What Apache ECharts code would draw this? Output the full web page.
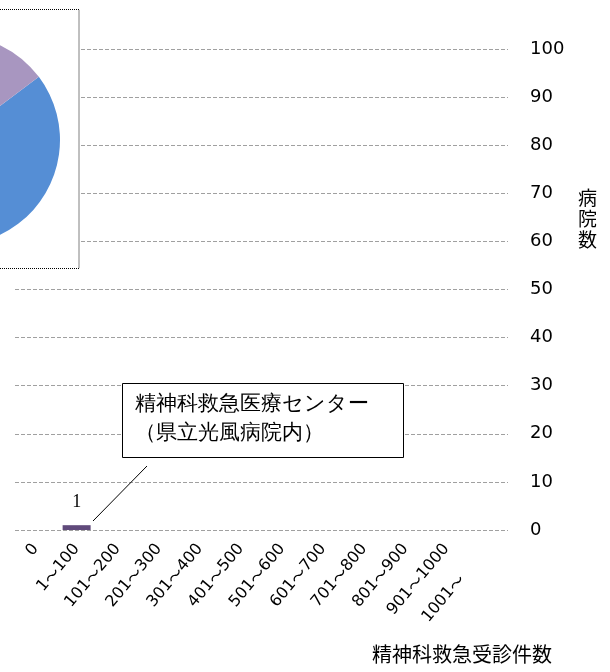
<!DOCTYPE html>
<html>
<head>
<meta charset="utf-8">
<script src="https://cdn.jsdelivr.net/npm/echarts@6/dist/echarts.min.js"></script>
<style>html,body{margin:0;padding:0;background:#fff;}#c{width:610px;height:672px;}</style>
</head>
<body>
<div id="c"></div>
<script>
const categories = ['0', '1～100', '101～200', '201～300', '301～400', '401～500', '501～600', '601～700', '701～800', '801～900', '901～1000', '1001～'];
const hospitalCounts = [0, 1, 0, 0, 0, 0, 0, 0, 0, 0, 0, 0];
const yTicks = { min: 0, max: 100, interval: 10 };
const pieNames = ['A', 'B', 'C'];
const pieValues = [58, 27, 15];
const pieColors = ['#558ED5', '#D99694', '#A896C0'];
const annotationLines = ['精神科救急医療センター', '（県立光風病院内）'];
const xName = '精神科救急受診件数';
const yName = '病\n院\n数';

const chart = echarts.init(document.getElementById('c'), null, { renderer: 'canvas' });
const baseFont = "'DejaVu Sans', 'Noto Sans CJK JP', sans-serif";
const jpFont = "'Noto Sans CJK JP', sans-serif";

chart.setOption({
  animation: false,
  backgroundColor: '#fff',
  grid: { left: 15, right: 102, top: 49, bottom: 142 },
  xAxis: {
    type: 'category',
    data: categories,
    axisLine: { show: false },
    axisTick: { show: false },
    axisLabel: {
      rotate: 50, margin: 16, fontSize: 16, color: '#000', fontFamily: baseFont, interval: 0,
      formatter: (v, i) => v.split('～').join('{t|～}') + (i === categories.length - 1 ? '{s| }' : ''),
      rich: {
        t: { fontFamily: jpFont, fontSize: 16, color: '#000' },
        s: { width: 40, fontSize: 16 }
      }
    }
  },
  yAxis: {
    type: 'value',
    position: 'right',
    min: yTicks.min, max: yTicks.max, interval: yTicks.interval,
    axisLine: { show: false },
    axisTick: { show: false },
    axisLabel: { margin: 22, fontSize: 18, color: '#000', fontFamily: baseFont, align: 'left' },
    splitLine: { show: true, lineStyle: { color: '#A0A0A0', type: [4, 2], width: 1 } }
  },
  graphic: [
    { type: 'rect', z: 1, shape: { x: -10, y: 9.5, width: 89, height: 259 },
      style: { fill: '#fff', stroke: '#000', lineWidth: 1, lineDash: [1, 1] } },
    { type: 'rect', z: 10, shape: { x: 122.5, y: 383.5, width: 281, height: 74 },
      style: { fill: '#fff', stroke: '#000', lineWidth: 1 } },
    { type: 'text', z: 11, left: 135, top: 390,
      style: { text: annotationLines.join('\n'), fontSize: 21, lineHeight: 29, fill: '#000', font: '21px ' + jpFont } },
    { type: 'line', z: 10, shape: { x1: 93, y1: 521, x2: 147, y2: 466 },
      style: { stroke: '#000', lineWidth: 1 } },
    { type: 'text', z: 11, left: 372, top: 644,
      style: { text: xName, fill: '#000', font: '20px ' + jpFont } },
    { type: 'text', z: 11, left: 578, top: 187,
      style: { text: yName, fill: '#000', font: '19px ' + jpFont, lineHeight: 21 } }
  ],
  series: [
    {
      type: 'bar',
      data: hospitalCounts,
      barWidth: 28,
      itemStyle: { color: '#604A7B' },
      label: {
        show: true, position: 'top', distance: 14, fontSize: 18, color: '#000',
        fontFamily: "'Liberation Serif', serif",
        formatter: p => (p.value ? String(p.value) : '')
      }
    },
    {
      type: 'pie',
      z: 3,
      center: [-45, 140],
      radius: 105,
      startAngle: 37,
      label: { show: false },
      labelLine: { show: false },
      emphasis: { disabled: true },
      data: pieNames.map((n, i) => ({ name: n, value: pieValues[i], itemStyle: { color: pieColors[i] } }))
    }
  ]
});
</script>
</body>
</html>
